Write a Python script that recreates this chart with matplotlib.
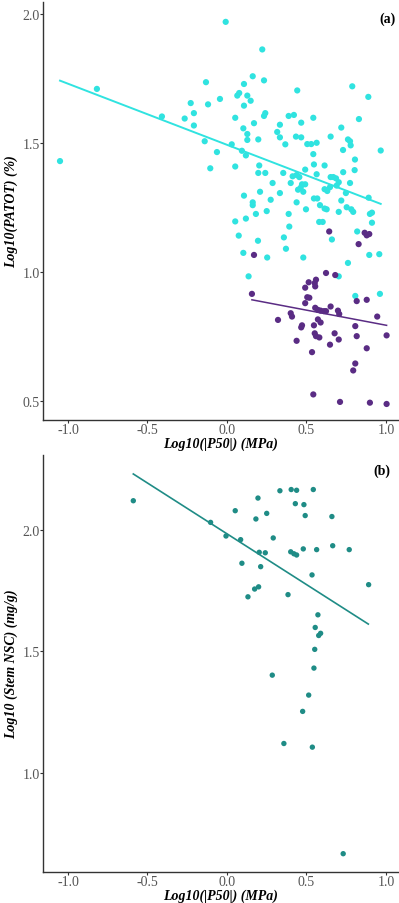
import numpy as np
import matplotlib
matplotlib.use("Agg")
import matplotlib.pyplot as plt

plt.rcParams['axes.unicode_minus'] = False
SERIF = ['Liberation Serif', 'DejaVu Serif']

# ---- Panel (a): cyan group ----
cyan_x = [-1.05, -0.818, 0.222, -0.132, 0.162, 0.233, 0.107, 0.077, 0.065, 0.128,
          0.149, 0.107, -0.044, -0.228, -0.119, -0.208, -0.409, -0.266, -0.208, 0.052,
          0.241, 0.233, 0.170, 0.103, 0.128, 0.128, 0.197, -0.140, 0.030, 0.094,
          0.119, -0.063, -0.105, 0.052, 0.203, 0.197, 0.241, 0.107, 0.208, 0.162,
          0.162, -0.008, 0.442, 0.788, 0.889, 0.388, 0.421, 0.543, 0.467, 0.333,
          0.830, 0.719, 0.316, 0.333, 0.434, 0.467, 0.652, 0.367, 0.505, 0.530,
          0.564, 0.761, 0.774, 0.778, 0.730, 0.967, 0.543, 0.547, 0.614, 0.805,
          0.492, 0.354, 0.413, 0.438, 0.455, 0.564, 0.652, 0.669, 0.686, 0.731,
          0.803, 0.287, 0.401, 0.472, 0.492, 0.447, 0.464, 0.480, 0.614, 0.631,
          0.648, 0.690, 0.703, 0.748, 0.774, 0.333, 0.275, 0.547, 0.568, 0.719,
          0.891, 0.438, 0.497, 0.585, 0.614, 0.627, 0.753, 0.782, 0.794, 0.250,
          0.182, 0.388, 0.703, 0.899, 0.912, 0.052, 0.119, 0.074, 0.195, 0.103,
          0.253, 0.371, 0.358, 0.392, 0.580, 0.602, 0.660, 0.480, 0.819, 0.912,
          0.895, 0.958, 0.761, 0.703, 0.136, 0.807, 0.962]
cyan_y = [1.430, 1.710, 1.863, 1.736, 1.759, 1.743, 1.729, 1.694, 1.684, 1.684,
          1.664, 1.645, 1.671, 1.655, 1.650, 1.616, 1.603, 1.595, 1.568, 1.598,
          1.616, 1.605, 1.577, 1.557, 1.535, 1.512, 1.514, 1.507, 1.495, 1.470,
          1.452, 1.465, 1.402, 1.409, 1.413, 1.384, 1.384, 1.296, 1.311, 1.270,
          1.259, 1.970, 1.704, 1.720, 1.679, 1.605, 1.609, 1.598, 1.579, 1.571,
          1.593, 1.560, 1.543, 1.522, 1.525, 1.522, 1.525, 1.495, 1.496, 1.496,
          1.501, 1.514, 1.507, 1.491, 1.473, 1.471, 1.457, 1.417, 1.413, 1.436,
          1.397, 1.384, 1.371, 1.376, 1.368, 1.379, 1.368, 1.368, 1.363, 1.387,
          1.395, 1.345, 1.345, 1.340, 1.340, 1.319, 1.327, 1.311, 1.321, 1.314,
          1.329, 1.335, 1.348, 1.306, 1.345, 1.306, 1.280, 1.285, 1.285, 1.277,
          1.288, 1.270, 1.243, 1.259, 1.246, 1.243, 1.251, 1.243, 1.233, 1.236,
          1.225, 1.225, 1.233, 1.225, 1.230, 1.196, 1.207, 1.141, 1.121, 1.074,
          1.056, 1.090, 1.134, 1.176, 1.194, 1.194, 1.126, 1.056, 1.157, 1.191,
          1.066, 1.069, 1.035, 0.983, 0.983, 0.907, 0.915]

# ---- Panel (a): purple group ----
purple_x = [0.643, 0.866, 0.879, 0.895, 0.828, 0.170, 0.623, 0.681, 0.560, 0.552,
            0.514, 0.555, 0.492, 0.157, 0.505, 0.518, 0.492, 0.816, 0.879, 0.555,
            0.572, 0.589, 0.610, 0.623, 0.652, 0.698, 0.706, 0.401, 0.409, 0.321,
            0.572, 0.589, 0.472, 0.467, 0.547, 0.807, 0.945, 0.552, 0.560, 0.581,
            0.677, 0.703, 0.816, 1.004, 0.438, 0.648, 0.535, 0.879, 0.807, 0.794,
            0.543, 0.711, 0.899, 1.004]
purple_y = [1.157, 1.152, 1.142, 1.147, 1.108, 1.066, 0.996, 0.988, 0.970, 0.957,
            0.960, 0.944, 0.939, 0.915, 0.902, 0.900, 0.879, 0.887, 0.892, 0.861,
            0.853, 0.850, 0.848, 0.848, 0.866, 0.850, 0.837, 0.840, 0.827, 0.814,
            0.816, 0.804, 0.793, 0.785, 0.793, 0.790, 0.827, 0.762, 0.751, 0.746,
            0.762, 0.738, 0.751, 0.754, 0.733, 0.718, 0.689, 0.704, 0.645, 0.618,
            0.525, 0.496, 0.493, 0.488]

# fitted lines: x-range, y at ends
cyan_fit_x = [-1.05, 0.967]
cyan_fit_y = [1.742, 1.264]
purple_fit_x = [0.157, 1.004]
purple_fit_y = [0.892, 0.793]

# ---- Panel (b) ----
nsc_x = [-0.589, 0.333, 0.404, 0.438, 0.543, 0.195, 0.430, 0.484, 0.052, 0.250,
         0.182, 0.492, 0.660, -0.103, -0.006, 0.086, 0.291, 0.203, 0.241, 0.401,
         0.421, 0.438, 0.480, 0.564, 0.665, 0.769, 0.094, 0.212, 0.535, 0.891,
         0.199, 0.174, 0.132, 0.384, 0.572, 0.555, 0.589, 0.577, 0.552, 0.547,
         0.285, 0.514, 0.476, 0.358, 0.537, 0.731]
nsc_y = [2.119, 2.160, 2.165, 2.162, 2.165, 2.130, 2.107, 2.103, 2.078, 2.067,
         2.044, 2.058, 2.054, 2.030, 1.974, 1.959, 1.966, 1.907, 1.905, 1.909,
         1.901, 1.896, 1.921, 1.918, 1.934, 1.918, 1.862, 1.848, 1.814, 1.774,
         1.765, 1.756, 1.724, 1.733, 1.650, 1.598, 1.574, 1.565, 1.508, 1.431,
         1.402, 1.320, 1.253, 1.121, 1.106, 0.668]
nsc_fit_x = [-0.589, 0.889]
nsc_fit_y = [2.229, 1.612]

x_ticks = [-1.0, -0.5, 0.0, 0.5, 1.0]
a_yticks = [0.5, 1.0, 1.5, 2.0]
b_yticks = [1.0, 1.5, 2.0]

CYAN = '#30e3e0'
PURPLE = '#5a2c84'
TEAL = '#1f8c86'

fig = plt.figure(figsize=(3.99, 9.04), dpi=100)
W, H = 399, 904
ax1 = fig.add_axes([43 / W, 1 - 420.7 / H, (W - 43) / W, (420.7 - 3) / H])
ax2 = fig.add_axes([43 / W, 1 - 872.7 / H, (W - 43) / W, (872.7 - 456) / H])


def style(ax, yticks):
    for s in ['top', 'right']:
        ax.spines[s].set_visible(False)
    for s in ['left', 'bottom']:
        ax.spines[s].set_color('#333333')
        ax.spines[s].set_linewidth(1.0)
    ax.set_xticks(x_ticks)
    ax.set_xticklabels(['%.1f' % v for v in x_ticks])
    ax.set_yticks(yticks)
    ax.set_yticklabels(['%.1f' % v for v in yticks])
    ax.tick_params(length=2, width=0.8, color='#333333', labelcolor='#555555',
                   labelsize=10, pad=0.5)
    for lab in ax.get_xticklabels() + ax.get_yticklabels():
        lab.set_family(SERIF)


# Panel (a)
ax1.scatter(cyan_x, cyan_y, s=20, color=CYAN, edgecolors='none', zorder=2)
ax1.scatter(purple_x, purple_y, s=20, color=PURPLE, edgecolors='none', zorder=3)
ax1.plot(cyan_fit_x, cyan_fit_y, color=CYAN, lw=1.4, zorder=4)
ax1.plot(purple_fit_x, purple_fit_y, color=PURPLE, lw=1.1, zorder=4)
ax1.set_xlim(-1.157, 1.082)
ax1.set_ylim(0.427, 2.047)
style(ax1, a_yticks)
ax1.set_xlabel('Log10(|P50|) (MPa)', family=SERIF, fontsize=10, fontweight='bold',
               fontstyle='italic', labelpad=0)
ax1.set_ylabel('Log10(PATOT) (%)', family=SERIF, fontsize=10, fontweight='bold',
               fontstyle='italic', labelpad=3)
ax1.text(0.99, 0.96, '(a)', transform=ax1.transAxes, ha='right', va='center',
         family=SERIF, fontsize=10, fontweight='bold')

# Panel (b)
ax2.scatter(nsc_x, nsc_y, s=15, color=TEAL, edgecolors='none', zorder=2)
ax2.plot(nsc_fit_x, nsc_fit_y, color=TEAL, lw=1.2, zorder=3)
ax2.set_xlim(-1.157, 1.082)
ax2.set_ylim(0.594, 2.307)
style(ax2, b_yticks)
ax2.set_xlabel('Log10(|P50|) (MPa)', family=SERIF, fontsize=10, fontweight='bold',
               fontstyle='italic', labelpad=0)
ax2.set_ylabel('Log10 (Stem NSC) (mg/g)', family=SERIF, fontsize=10, fontweight='bold',
               fontstyle='italic', labelpad=3)
ax2.text(0.975, 0.964, '(b)', transform=ax2.transAxes, ha='right', va='center',
         family=SERIF, fontsize=10, fontweight='bold')

fig.savefig('out.png', dpi=100)
